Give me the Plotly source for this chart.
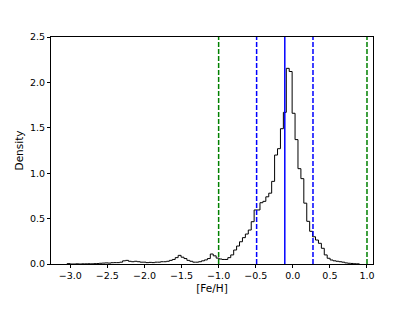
import plotly.graph_objects as go

# Histogram (density) of [Fe/H]
bin_start = -3.043
bin_width = 0.0394
density = [
    0.004, 0.0, 0.0, 0.002, 0.0, 0.002, 0.002, 0.003, 0.002, 0.004,      # 0-9
    0.005, 0.008, 0.010, 0.012, 0.010, 0.014, 0.015, 0.015, 0.020, 0.035, # 10-19
    0.040, 0.030, 0.025, 0.030, 0.025, 0.020, 0.020, 0.015, 0.018, 0.015, # 20-29
    0.020, 0.020, 0.025, 0.025, 0.030, 0.040, 0.050, 0.070, 0.095, 0.075, # 30-39
    0.060, 0.040, 0.030, 0.020, 0.020, 0.025, 0.035, 0.045, 0.060, 0.110, # 40-49
    0.090, 0.065, 0.055, 0.050, 0.050, 0.070, 0.100, 0.154, 0.198, 0.245, # 50-59
    0.290, 0.330, 0.374, 0.466, 0.595, 0.595, 0.675, 0.690, 0.740, 0.780, # 60-69
    0.910, 1.200, 1.270, 1.490, 1.670, 2.155, 2.120, 1.660, 1.370, 1.050, # 70-79
    0.940, 0.670, 0.470, 0.360, 0.300, 0.264, 0.228, 0.173, 0.100, 0.063, # 80-89
    0.044, 0.035, 0.030, 0.025, 0.020, 0.012, 0.008, 0.006, 0.003, 0.002, # 90-99
]

mean_line = [-0.108]
sigma_lines = [-0.488, 0.272]
limit_lines = [-1.0, 1.0]

x_ticks = [-3.0, -2.5, -2.0, -1.5, -1.0, -0.5, 0.0, 0.5, 1.0]
y_ticks = [0.0, 0.5, 1.0, 1.5, 2.0, 2.5]

def fmt(v):
    s = f"{v:.1f}"
    return s.replace("-", "\u2212")

edges = [bin_start + bin_width * i for i in range(len(density) + 1)]
xs = [edges[0]] + edges + [edges[-1]]
ys = [0.0] + density + [density[-1], 0.0]

fig = go.Figure()
fig.add_trace(go.Scatter(
    x=xs, y=ys, mode="lines", line=dict(color="black", width=1.0, shape="hv"),
    showlegend=False, hoverinfo="skip"))

shapes = []
for v in limit_lines:
    shapes.append(dict(type="line", xref="x", yref="paper", x0=v, x1=v, y0=0, y1=1,
                       line=dict(color="#008000", width=1.5, dash="5px,2px"), layer="above"))
for v in sigma_lines:
    shapes.append(dict(type="line", xref="x", yref="paper", x0=v, x1=v, y0=0, y1=1,
                       line=dict(color="#0000ff", width=1.5, dash="5px,2px"), layer="above"))
for v in mean_line:
    shapes.append(dict(type="line", xref="x", yref="paper", x0=v, x1=v, y0=0, y1=1,
                       line=dict(color="#0000ff", width=1.5), layer="above"))

axis_common = dict(showline=True, linecolor="black", linewidth=1, mirror=True,
                   ticks="outside", ticklen=3, tickwidth=1, tickcolor="black",
                   showgrid=False, zeroline=False,
                   tickfont=dict(family="DejaVu Sans", size=9.5, color="black"))

fig.update_layout(
    width=407, height=303,
    margin=dict(l=43, r=42, t=29, b=47),
    paper_bgcolor="white", plot_bgcolor="white",
    shapes=shapes,
    xaxis=dict(range=[-3.26, 1.081], tickvals=x_ticks, ticktext=[fmt(v) for v in x_ticks],
               title=dict(text="[Fe/H]", font=dict(family="DejaVu Sans", size=10.5, color="black"),
                          standoff=4),
               **axis_common),
    yaxis=dict(range=[0, 2.5], tickvals=y_ticks, ticktext=[fmt(v) for v in y_ticks],
               title=dict(text="Density", font=dict(family="DejaVu Sans", size=10.5, color="black"),
                          standoff=4),
               **axis_common),
)

fig.write_html("out.html")
